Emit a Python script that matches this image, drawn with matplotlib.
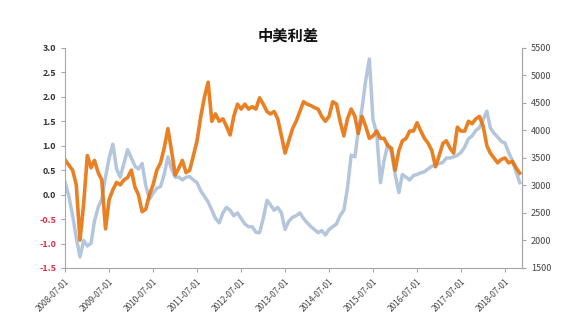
import matplotlib.pyplot as plt
import matplotlib.dates as mdates
import pandas as pd

plt.rcParams['font.family'] = ['Noto Sans CJK SC', 'DejaVu Sans']

# 月度数据 2008-07 ~ 2018-11
dates = pd.date_range('2008-07-01', periods=125, freq='MS')

# 中美利差 (左轴)
spread = [0.71, 0.6, 0.5, 0.2, -0.93, -0.2, 0.8, 0.55, 0.7, 0.45,
          0.3, -0.7, -0.1, 0.1, 0.25, 0.2, 0.3, 0.35, 0.5, 0.15,
          0.0, -0.35, -0.3, 0.0, 0.2, 0.5, 0.65, 0.95, 1.35, 0.9,
          0.4, 0.55, 0.7, 0.45, 0.5, 0.8, 1.1, 1.6, 2.0, 2.3,
          1.5, 1.65, 1.5, 1.55, 1.4, 1.22, 1.6, 1.85, 1.75, 1.85,
          1.75, 1.8, 1.75, 1.98, 1.85, 1.7, 1.65, 1.7, 1.55, 1.2,
          0.85, 1.1, 1.35, 1.5, 1.7, 1.9, 1.85, 1.82, 1.78, 1.75,
          1.6, 1.5, 1.6, 1.9, 1.85, 1.5, 1.2, 1.55, 1.75, 1.6,
          1.25, 1.6, 1.4, 1.15, 1.2, 1.3, 1.15, 1.15, 1.0, 0.95,
          0.5, 0.9, 1.1, 1.15, 1.3, 1.3, 1.47, 1.3, 1.15, 1.05,
          0.9, 0.57, 0.8, 1.05, 1.1, 0.95, 0.85, 1.38, 1.3, 1.3,
          1.5, 1.45, 1.55, 1.6, 1.4, 1.0, 0.85, 0.75, 0.65, 0.72,
          0.75, 0.65, 0.68, 0.55, 0.44]

# 指数 (右轴)
index = [3050, 2800, 2450, 2050, 1700, 2000, 1900, 1950, 2350, 2600,
         2750, 3150, 3500, 3750, 3300, 3150, 3400, 3650, 3500, 3350,
         3300, 3400, 3000, 2750, 2860, 2950, 2980, 3200, 3520, 3300,
         3150, 3150, 3100, 3150, 3160, 3100, 3050, 2900, 2800, 2700,
         2550, 2400, 2320, 2500, 2600, 2550, 2450, 2500, 2400, 2300,
         2250, 2250, 2150, 2140, 2400, 2730, 2650, 2550, 2600, 2500,
         2200, 2350, 2420, 2450, 2500, 2400, 2320, 2250, 2200, 2140,
         2180, 2100, 2200, 2250, 2300, 2450, 2550, 2950, 3550, 3520,
         4000, 4400, 4900, 5300, 4200, 3950, 3050, 3450, 3750, 3600,
         3200, 2870, 3200, 3150, 3100, 3180, 3200, 3230, 3250, 3300,
         3350, 3370, 3400, 3420, 3500, 3500, 3520, 3550, 3600, 3700,
         3850, 3900, 4000, 4050, 4200, 4350, 4050, 3950, 3880, 3800,
         3770, 3600, 3450, 3250, 3050]

left_ticks = [-1.5, -1.0, -0.5, 0.0, 0.5, 1.0, 1.5, 2.0, 2.5, 3.0]
right_ticks = [1500, 2000, 2500, 3000, 3500, 4000, 4500, 5000, 5500]
xtick_dates = pd.date_range('2008-07-01', periods=11, freq='12MS')

fig = plt.figure(figsize=(5.82, 3.24), dpi=100)
ax = fig.add_axes([0.112, 0.173, 0.785, 0.679])
ax2 = ax.twinx()

ax2.plot(dates, index, color='#b4c6dc', lw=2.5, zorder=1)
ax.plot(dates, spread, color='#e8720c', lw=2.6, alpha=0.9, zorder=2)
ax.set_zorder(ax2.get_zorder() + 1)
ax.patch.set_visible(False)

ax.set_ylim(-1.5, 3.0)
ax2.set_ylim(1500, 5500)
ax.set_xlim(pd.Timestamp('2008-07-01'), pd.Timestamp('2018-11-20'))

ax.set_yticks(left_ticks)
ax.set_yticklabels(['%.1f' % v for v in left_ticks], fontsize=6.5, fontweight='bold')
for lab, v in zip(ax.get_yticklabels(), left_ticks):
    lab.set_color('#e0314b' if v < 0 else '#333333')
ax2.set_yticks(right_ticks)
ax2.set_yticklabels([str(v) for v in right_ticks], fontsize=6.5, color='#444444')

ax.set_xticks(xtick_dates)
ax.set_xticklabels([d.strftime('%Y-%m-%d') for d in xtick_dates],
                   rotation=45, ha='right', rotation_mode='anchor',
                   fontsize=6, color='#444444')

for a in (ax, ax2):
    a.spines['top'].set_visible(False)
    for s in ('left', 'right', 'bottom'):
        a.spines[s].set_color('#a6a6a6')
        a.spines[s].set_linewidth(0.8)
    a.tick_params(color='#a6a6a6', length=3, width=0.8)
ax2.spines['left'].set_visible(False)
ax2.spines['bottom'].set_visible(False)

fig.text(0.495, 0.89, '中美利差', ha='center', va='center',
         fontsize=11, fontweight='bold', color='#111111')

fig.savefig('out.png', dpi=100)
